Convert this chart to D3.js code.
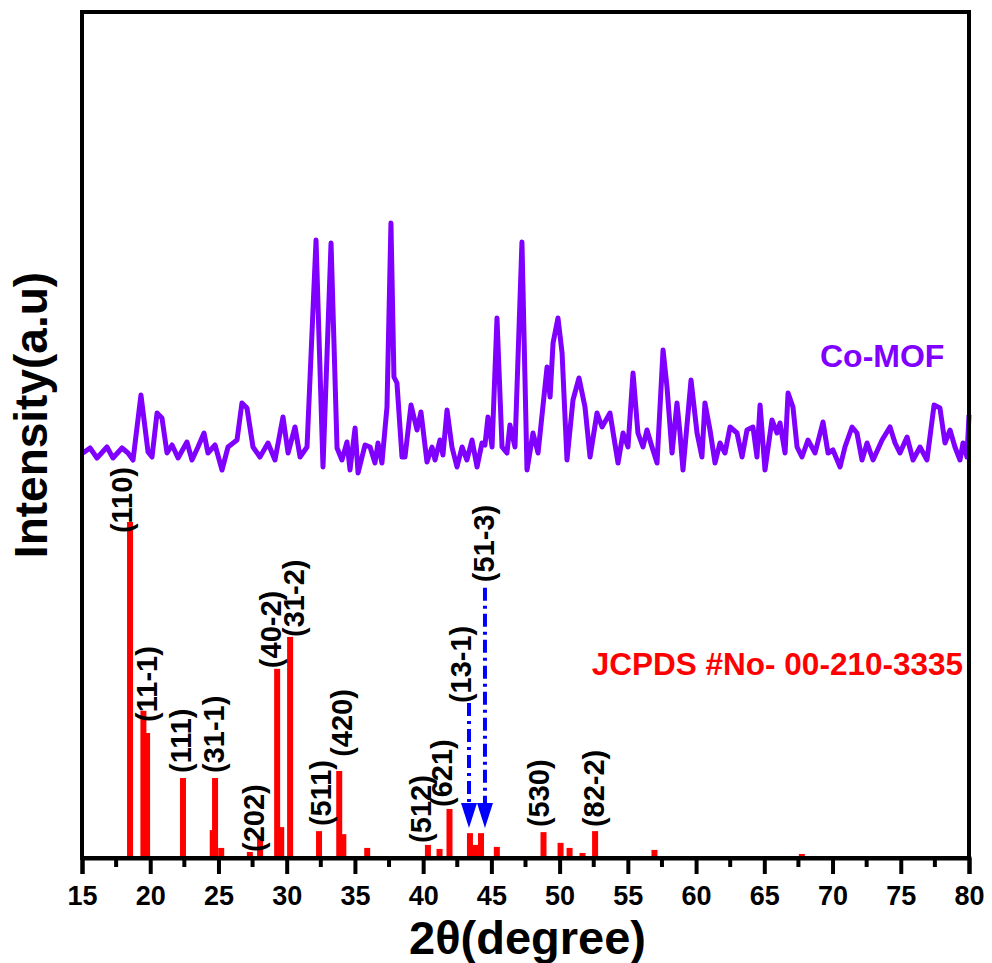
<!DOCTYPE html>
<html>
<head>
<meta charset="utf-8">
<script src="https://cdn.jsdelivr.net/npm/d3@7"></script>
<style>
  body { margin: 0; background: #fff; }
  text { font-family: "Liberation Sans", Arial, sans-serif; font-weight: bold; }
</style>
</head>
<body>
<svg id="xrd"></svg>
<script>
/* Co-MOF measured pattern (2theta, counts) */
const coTheta = [15.07,15.59,16.10,16.83,17.27,17.93,18.37,18.74,19.32,19.84,20.13,20.50,20.86,21.23,21.60,22.04,22.69,23.06,23.50,23.94,24.23,24.75,25.26,25.70,26.36,26.72,27.09,27.53,28.04,28.63,29.14,29.73,30.10,30.61,30.98,31.49,32.15,32.66,33.25,33.69,34.05,34.42,34.64,35.01,35.23,35.74,
  36.11,36.47,36.69,36.98,37.35,37.64,37.86,38.08,38.45,38.67,39.11,39.55,39.84,40.28,40.65,40.87,41.23,41.45,41.75,42.11,42.48,42.85,43.21,43.58,43.95,44.31,44.53,44.75,45.05,45.41,45.78,46.14,46.36,46.73,47.24,47.61,48.05,48.42,49.08,49.30,49.52,49.88,50.18,50.54,50.98,51.42,51.86,52.23,52.74,53.11,53.69,54.28,54.65,55.01,55.38,55.74,56.11,56.40,56.77,57.14,57.58,
  57.87,58.24,58.60,58.82,59.04,59.63,60.07,60.43,60.65,61.02,61.39,61.75,62.12,62.49,63.00,63.37,63.73,64.17,64.46,64.69,65.05,65.56,65.93,66.15,66.52,66.74,67.10,67.40,67.76,68.20,68.72,69.30,69.67,70.03,70.55,70.91,71.43,71.79,72.16,72.53,72.97,73.63,74.21,74.58,74.94,75.46,75.90,76.41,76.92,77.44,77.87,78.24,78.61,78.97,79.34,79.56,79.85,80.00];
const coCounts = [405,410,400,411,400,410,405,398,463,406,401,445,440,405,413,400,416,398,411,425,405,413,388,411,418,455,450,411,401,415,398,441,405,431,401,411,618,391,615,410,398,416,388,430,385,413,
  411,395,415,395,451,635,481,475,401,401,453,428,446,396,411,398,418,403,448,411,391,411,398,418,391,415,413,441,411,540,411,405,433,411,616,388,425,405,491,461,515,540,505,398,458,480,451,401,445,431,445,395,425,411,485,425,411,428,411,395,508,
  471,405,455,425,388,478,425,401,455,428,395,415,405,431,425,401,428,431,401,453,388,438,425,435,405,465,451,411,401,418,405,436,405,408,391,411,431,425,398,415,398,418,431,415,405,421,398,411,398,453,450,415,428,411,398,415,401,443];

/* JCPDS 00-210-3335 reference sticks (2theta, relative intensity %) */
const stickTheta = [18.52,19.50,19.77,22.40,24.58,24.75,25.20,27.30,28.05,29.30,29.60,30.25,31.00,32.37,33.85,34.15,35.00,35.90,40.35,41.20,41.93,43.43,43.80,44.24,45.40,48.82,50.07,50.73,51.68,52.60,56.95,58.60,67.75];
const stickInt   = [100,43.8,37.2,23.8,8.3,23.8,3.0,1.8,6.0,56.3,9.2,65.8,0.6,8.0,25.9,7.1,0.6,3.0,3.9,2.7,14.6,7.4,3.9,7.4,3.3,7.7,4.5,3.0,1.5,8.0,2.4,0.6,1.2];

/* hkl labels: text, 2theta of baseline, level (%) of label foot */
const hklText  = ["(110)","(11-1)","(111)","(31-1)","(202)","(40-2)","(31-2)","(511)","(420)","(512)","(621)","(13-1)","(51-3)","(530)","(82-2)"];
const hklTheta = [18.64,20.50,22.99,25.40,28.34,29.58,31.27,33.25,34.79,40.58,42.10,43.50,45.20,49.20,53.25];
const hklLevel = [96.7,40.5,25.3,25.3,1.8,56.5,65.8,9.5,30.1,4.5,15.2,46.1,82.1,9.2,9.2];

/* dash-dot arrows from labels down to the sticks */
const arrowTheta = [43.36,44.53];
const arrowFrom  = [46.1,80.4];
const arrowTo    = [8.9,8.9];

const xTicks = [15,20,25,30,35,40,45,50,55,60,65,70,75,80];
const xMinor = [17.5,22.5,27.5,32.5,37.5,42.5,47.5,52.5,57.5,62.5,67.5,72.5,77.5];

const width = 992, height = 963;
const margin = {top: 12, right: 23, bottom: 105, left: 82};
const pctToCounts = 3.36;   /* stick pattern scale: % -> counts */

const svg = d3.select("#xrd").attr("width", width).attr("height", height);

const x = d3.scaleLinear().domain([15, 80]).range([margin.left, width - margin.right]);
const y = d3.scaleLinear().domain([0, 846]).range([height - margin.bottom, margin.top]);

/*red zero line of the reference pattern*/
svg.append("line")
  .attr("x1", x(stickTheta[0])).attr("x2", x(80))
  .attr("y1", y(0) - 1).attr("y2", y(0) - 1)
  .attr("stroke", "#ff0000").attr("stroke-width", 2)
  .attr("stroke-dasharray", "26 6");

/*sticks*/
svg.append("g").selectAll("rect")
  .data(stickTheta)
  .enter()
  .append("rect")
  .attr("x", d => x(d) - 3)
  .attr("width", 6)
  .attr("y", (d, i) => y(stickInt[i] * pctToCounts))
  .attr("height", (d, i) => y(0) - y(stickInt[i] * pctToCounts))
  .attr("fill", "#ff0000");

/*Co-MOF curve*/
const line = d3.line()
  .x(d => x(d[0]))
  .y(d => y(d[1]));
svg.append("path")
  .datum(coTheta.map((t, i) => [t, coCounts[i]]))
  .attr("d", line)
  .attr("fill", "none")
  .attr("stroke", "#8000ff")
  .attr("stroke-width", 5)
  .attr("stroke-linejoin", "round");

/*arrows*/
arrowTheta.forEach((t, i) => {
  const tip = y(arrowTo[i] * pctToCounts);
  svg.append("line")
    .attr("x1", x(t)).attr("x2", x(t))
    .attr("y1", y(arrowFrom[i] * pctToCounts))
    .attr("y2", tip - 22)
    .attr("stroke", "#0000ff").attr("stroke-width", 4)
    .attr("stroke-dasharray", "13 5 3 5");
  svg.append("path")
    .attr("d", `M${x(t) - 8},${tip - 25} L${x(t) + 8},${tip - 25} L${x(t)},${tip} Z`)
    .attr("fill", "#0000ff");
});

/*hkl labels*/
svg.append("g").selectAll("text")
  .data(hklText)
  .enter()
  .append("text")
  .attr("transform", (d, i) => `translate(${x(hklTheta[i])},${y(hklLevel[i] * pctToCounts)}) rotate(-90)`)
  .attr("font-size", "29px")
  .attr("fill", "#000")
  .text(d => d);

/*frame*/
svg.append("rect")
  .attr("x", margin.left).attr("y", margin.top)
  .attr("width", width - margin.left - margin.right)
  .attr("height", height - margin.top - margin.bottom)
  .attr("fill", "none").attr("stroke", "#000").attr("stroke-width", 4);

/*x axis*/
const axis = svg.append("g")
  .attr("transform", `translate(0,${y(0)})`)
  .call(d3.axisBottom(x).tickValues(xTicks).tickSize(16).tickPadding(12).tickFormat(d3.format("d")));
axis.select(".domain").attr("stroke-width", 4);
axis.selectAll(".tick line").attr("stroke-width", 4);
axis.selectAll(".tick text")
  .attr("font-size", "27px")
  .attr("font-family", "'Liberation Sans', Arial, sans-serif")
  .attr("font-weight", "bold");

svg.append("g").selectAll("line")
  .data(xMinor)
  .enter()
  .append("line")
  .attr("x1", d => x(d)).attr("x2", d => x(d))
  .attr("y1", y(0)).attr("y2", y(0) + 9)
  .attr("stroke", "#000").attr("stroke-width", 4);

/*titles*/
svg.append("text")
  .attr("x", (margin.left + width - margin.right) / 2 + 2)
  .attr("y", 954)
  .attr("text-anchor", "middle")
  .attr("font-size", "47px")
  .text("2θ(degree)");

svg.append("text")
  .attr("transform", "translate(47,415) rotate(-90)")
  .attr("text-anchor", "middle")
  .attr("font-size", "46px")
  .text("Intensity(a.u)");

svg.append("text")
  .attr("x", 820).attr("y", 367)
  .attr("font-size", "32px")
  .attr("fill", "#8000ff")
  .text("Co-MOF");

svg.append("text")
  .attr("x", 963).attr("y", 675)
  .attr("text-anchor", "end")
  .attr("font-size", "31.5px")
  .attr("fill", "#ff0000")
  .text("JCPDS #No- 00-210-3335");
</script>
</body>
</html>
